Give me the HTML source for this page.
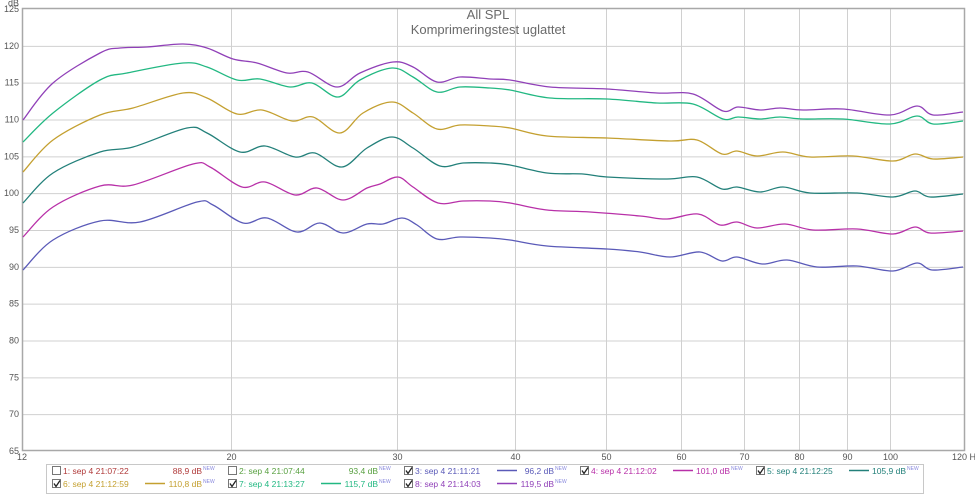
<!DOCTYPE html>
<html><head><meta charset="utf-8"><style>
html,body{margin:0;padding:0;background:#fff;}
body{width:975px;height:495px;overflow:hidden;font-family:"Liberation Sans",sans-serif;}
</style></head><body>
<svg id="s" width="975" height="495" xmlns="http://www.w3.org/2000/svg" font-family="Liberation Sans, sans-serif">
<rect width="975" height="495" fill="#fff"/>
<g id="grid" stroke="#d0d0d0" stroke-width="1"></g>
<rect x="22.5" y="8.5" width="942" height="442" fill="none" stroke="#a8a8a8" stroke-width="1.5"/>
<g id="labels" font-size="9" fill="#555"></g>
<text x="488" y="19" font-size="13" fill="#6a6a6a" text-anchor="middle">All SPL</text>
<text x="488" y="34" font-size="13" fill="#6a6a6a" text-anchor="middle">Komprimeringstest uglattet</text>
<g id="curves" fill="none" stroke-width="1.3"></g>
<rect x="46.5" y="464.5" width="877" height="29" fill="#fff" stroke="#c8c8c8"/>
<g id="legend" font-size="8.5"></g>
</svg>
<script>
var NS="http://www.w3.org/2000/svg";
function el(t,a,p,txt){var e=document.createElementNS(NS,t);for(var k in a)e.setAttribute(k,a[k]);if(txt!=null)e.textContent=txt;p.appendChild(e);return e;}
var grid=document.getElementById('grid'),lab=document.getElementById('labels');
var X0=22,X1=965,dec=943;
function fx(f){return X0+Math.log10(f/12)*dec;}
for(var v=65;v<=125;v+=5){var y=9+(125-v)*7.367;
 if(v>65&&v<125)el('line',{x1:22,x2:965,y1:y+0.5,y2:y+0.5},grid);
 el('text',{x:19,y:y+3,'text-anchor':'end'},lab,v);}
el('text',{x:19,y:6,'text-anchor':'end'},lab,'dB');
[20,30,40,50,60,70,80,90,100].forEach(function(f){var x=Math.round(fx(f))+0.5;el('line',{x1:x,x2:x,y1:9,y2:451},grid);el('text',{x:x,y:460,'text-anchor':'middle'},lab,f);});
el('text',{x:22,y:460,'text-anchor':'middle'},lab,'12');
el('text',{x:952,y:460,'text-anchor':'start'},lab,'120 Hz');
function path(p){var d='M'+p[0][0]+','+p[0][1];for(var i=0;i<p.length-1;i++){var a=p[i-1]||p[i],b=p[i],c=p[i+1],e=p[i+2]||c;
 d+=' C'+(b[0]+(c[0]-a[0])/6)+','+(b[1]+(c[1]-a[1])/6)+' '+(c[0]-(e[0]-b[0])/6)+','+(c[1]-(e[1]-b[1])/6)+' '+c[0]+','+c[1];}return d;}
var C=document.getElementById('curves');
var series=[
['#5a5ab8',[[23,270],[53,240],[100,221],[140,222],[197,202],[213,205],[243,223],[267,218],[297,232],[320,223],[343,233],[367,224],[383,224],[402,218],[417,225],[437,239],[460,237],[490,238],[510,240],[547,246],[607,249],[640,252],[670,257],[700,252],[722,261],[737,257],[762,264],[787,260],[817,267],[857,266],[893,271],[917,263],[932,270],[963,267]]],
['#b830a8',[[23,237],[53,207],[100,186],[133,185],[193,164],[210,167],[242,187],[265,182],[295,195],[317,188],[343,200],[367,188],[380,184],[398,177],[413,187],[438,203],[463,201],[490,201],[510,203],[547,210],[590,212],[640,216],[667,219],[698,214],[720,225],[737,222],[757,228],[785,224],[813,230],[857,229],[893,234],[915,227],[930,233],[963,231]]],
['#23807a',[[23,203],[53,173],[100,152],[133,147],[187,128],[207,133],[240,152],[265,146],[295,157],[315,153],[342,167],[367,148],[392,137],[413,148],[440,166],[463,163],[490,163],[510,165],[547,173],[583,174],[607,177],[667,179],[697,177],[722,189],[737,187],[760,192],[783,187],[810,193],[857,193],[893,197],[915,191],[930,197],[963,194]]],
['#c4a030',[[23,172],[53,140],[100,115],[133,108],[183,93],[207,98],[237,114],[262,110],[292,121],[313,117],[340,133],[363,113],[392,102],[413,113],[437,129],[460,125],[490,126],[510,128],[547,136],[607,138],[670,141],[697,140],[722,154],[737,151],[757,156],[783,152],[810,157],[853,156],[893,161],[915,154],[933,159],[963,157]]],
['#22b882',[[23,142],[53,113],[100,80],[127,73],[183,63],[207,67],[237,80],[260,79],[290,87],[312,83],[338,97],[360,80],[392,68],[413,77],[437,92],[460,87],[490,88],[510,90],[550,98],[607,99],[657,103],[693,104],[723,119],[738,117],[760,119],[780,117],[803,119],[843,119],[890,124],[917,116],[933,124],[963,121]]],
['#9040b8',[[23,120],[53,83],[100,53],[120,48],[147,47],[183,44],[207,48],[233,59],[257,63],[287,73],[308,72],[337,87],[360,73],[393,62],[413,67],[437,82],[460,77],[490,79],[510,80],[550,87],[607,89],[657,93],[693,94],[723,111],[738,107],[760,110],[780,108],[803,110],[843,109],[890,115],[917,106],[933,115],[963,112]]]];
series.forEach(function(s){el('path',{d:path(s[1]),stroke:s[0]},C);});
var L=document.getElementById('legend');
var items=[
[0,0,false,'1: sep 4 21:07:22','88,9','#b03a3a',null],
[1,0,false,'2: sep 4 21:07:44','93,4','#58a040',null],
[2,0,true,'3: sep 4 21:11:21','96,2','#5a5ab8','#5a5ab8'],
[3,0,true,'4: sep 4 21:12:02','101,0','#b830a8','#b830a8'],
[4,0,true,'5: sep 4 21:12:25','105,9','#23807a','#23807a'],
[0,1,true,'6: sep 4 21:12:59','110,8','#c4a030','#c4a030'],
[1,1,true,'7: sep 4 21:13:27','115,7','#22b882','#22b882'],
[2,1,true,'8: sep 4 21:14:03','119,5','#9040b8','#9040b8']];
items.forEach(function(it){var x=52+it[0]*176,y=it[1]?486:473;
 el('rect',{x:x+0.5,y:y-6.5,width:8,height:8,fill:'#fff',stroke:'#777'},L);
 if(it[2])el('path',{d:'M'+(x+2)+','+(y-2.5)+' l2,3 l4,-6',stroke:'#222','stroke-width':1.3,fill:'none'},L);
 el('text',{x:x+11,y:y+1,fill:it[5]},L,it[3]);
 if(it[6])el('line',{x1:x+93,x2:x+113,y1:y-2.5,y2:y-2.5,stroke:it[6],'stroke-width':1.5},L);
 el('text',{x:x+150,y:y+1,fill:it[5],'text-anchor':'end'},L,it[4]+' dB');
 el('text',{x:x+151,y:y-3,fill:'#8888dd','font-size':5},L,'NEW');});
</script>
</body></html>
